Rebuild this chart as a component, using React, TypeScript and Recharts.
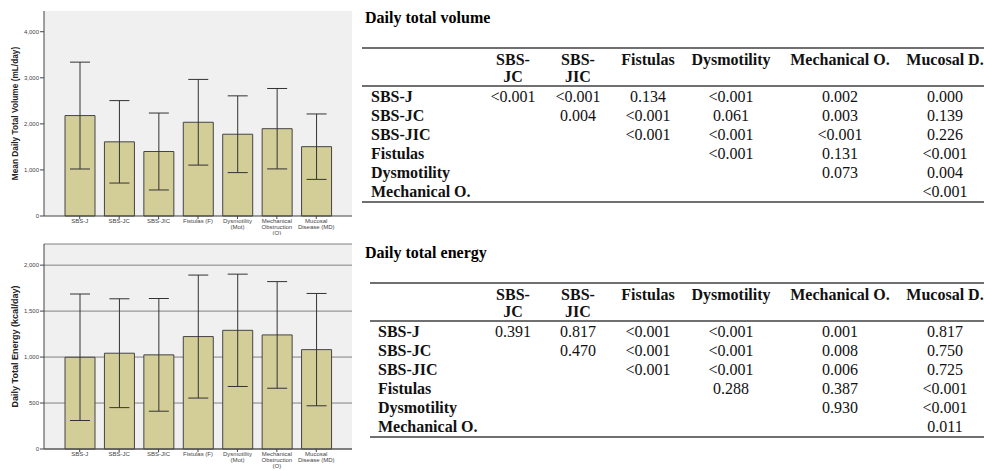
import React from 'react';
import { BarChart, Bar, XAxis, YAxis, CartesianGrid, ErrorBar, Label } from 'recharts';

// group labels shared by both bar charts (line breaks split the tick text)
const groups = [
  'SBS-J',
  'SBS-JC',
  'SBS-JIC',
  'Fistulas (F)',
  'Dysmotility\n(Mot)',
  'Mechanical\nObstruction\n(O)',
  'Mucosal\nDisease (MD)',
];

// mean daily total volume (mL/day) and SD
const volumeMean = [2180, 1610, 1400, 2035, 1775, 1895, 1505];
const volumeSd = [1160, 895, 835, 930, 833, 873, 710];
const volumeTicks = [0, 1000, 2000, 3000, 4000];

// daily total energy (kcal/day) and SD
const energyMean = [998, 1042, 1024, 1223, 1291, 1241, 1081];
const energySd = [688, 592, 613, 669, 611, 580, 611];
const energyTicks = [0, 500, 1000, 1500, 2000];

// pairwise p-values
const pCols = ['SBS-\nJC', 'SBS-\nJIC', 'Fistulas', 'Dysmotility', 'Mechanical O.', 'Mucosal D.'];
const pRows = ['SBS-J', 'SBS-JC', 'SBS-JIC', 'Fistulas', 'Dysmotility', 'Mechanical O.'];
const volumeP = [
  ['<0.001', '<0.001', '0.134', '<0.001', '0.002', '0.000'],
  ['', '0.004', '<0.001', '0.061', '0.003', '0.139'],
  ['', '', '<0.001', '<0.001', '<0.001', '0.226'],
  ['', '', '', '<0.001', '0.131', '<0.001'],
  ['', '', '', '', '0.073', '0.004'],
  ['', '', '', '', '', '<0.001'],
];
const energyP = [
  ['0.391', '0.817', '<0.001', '<0.001', '0.001', '0.817'],
  ['', '0.470', '<0.001', '<0.001', '0.008', '0.750'],
  ['', '', '<0.001', '<0.001', '0.006', '0.725'],
  ['', '', '', '0.288', '0.387', '<0.001'],
  ['', '', '', '', '0.930', '<0.001'],
  ['', '', '', '', '', '0.011'],
];

const SANS = '"Liberation Sans", Arial, sans-serif';
const SERIF = '"Liberation Serif", "Times New Roman", serif';
const BAR_FILL = '#d3ce97';

const CategoryTick = (props: any) => {
  const { x, y, payload } = props;
  const lines = String(payload.value).split('\n');
  return (
    <text x={x} y={y} textAnchor="middle" fontSize={6} fill="#444" fontFamily={SANS}>
      {lines.map((l, i) => (
        <tspan key={i} x={x} dy={i === 0 ? '0.71em' : 6}>{l}</tspan>
      ))}
    </text>
  );
};

const axisTitle = (text: string, dx: number, size: number) => (props: any) => {
  const vb = props.viewBox || { x: 0, y: 0, width: 44, height: 200 };
  const cx = vb.x + dx;
  const cy = vb.y + vb.height / 2;
  return (
    <text
      x={cx}
      y={cy}
      transform={`rotate(-90, ${cx}, ${cy})`}
      textAnchor="middle"
      dominantBaseline="central"
      fontSize={size}
      fontWeight="bold"
      fill="#222"
      fontFamily={SANS}
    >
      {text}
    </text>
  );
};

interface MeanChartProps {
  means: number[];
  sds: number[];
  ticks: number[];
  max: number;
  title: string;
  height: number;
  marginTop: number;
  axisHeight: number;
  frame: string;
  grid: boolean;
  titleSize: number;
}

function MeanChart({ means, sds, ticks, max, title, height, marginTop, axisHeight, frame, grid, titleSize }: MeanChartProps) {
  const data = groups.map((name, i) => ({ name, mean: means[i], sd: sds[i] }));
  return (
    <BarChart width={352} height={height} data={data} margin={{ top: marginTop, right: 0, bottom: 0, left: 0 }} barSize={30}>
      <CartesianGrid fill="#f0f0f0" vertical={false} horizontal={grid} stroke="#808080" strokeOpacity={1} />
      <XAxis
        dataKey="name"
        interval={0}
        height={axisHeight}
        padding={{ left: 16, right: 16 }}
        tickSize={3}
        tickMargin={0}
        tick={<CategoryTick />}
        tickLine={{ stroke: '#444' }}
        axisLine={{ stroke: '#444' }}
      />
      <XAxis xAxisId="frame" orientation="top" dataKey="name" height={0} tick={false} tickLine={false} axisLine={{ stroke: frame }} />
      <YAxis
        width={44}
        domain={[0, max]}
        ticks={ticks}
        tickSize={4}
        tickMargin={1}
        tickFormatter={(v: number) => v.toLocaleString('en-US')}
        tick={{ fontSize: 6, fill: '#444', fontFamily: SANS }}
        tickLine={{ stroke: '#444' }}
        axisLine={{ stroke: '#444' }}
      >
        <Label content={axisTitle(title, 15, titleSize)} />
      </YAxis>
      <YAxis yAxisId="frame" orientation="right" width={0} domain={[0, 1]} tick={false} tickLine={false} axisLine={{ stroke: frame }} />
      <Bar dataKey="mean" fill={BAR_FILL} stroke="#444" strokeWidth={1} isAnimationActive={false}>
        <ErrorBar dataKey="sd" width={10} stroke="#333" strokeWidth={1} direction="y" />
      </Bar>
    </BarChart>
  );
}

const RULE = '2px solid #707070';

function PTable({ title, values, top, left, labelWidth }: { title: string; values: string[][]; top: number; left: number; labelWidth: number }) {
  const widths = [labelWidth, 66, 64, 76, 90, 128, 82];
  const total = widths.reduce((a, b) => a + b, 0);
  return (
    <>
      <div style={{ position: 'absolute', left: 365, top: top - 38, fontFamily: SERIF, fontSize: 16, lineHeight: '18px', fontWeight: 'bold', whiteSpace: 'nowrap' }}>
        {title}
      </div>
      <table
        style={{
          position: 'absolute',
          left,
          top,
          width: total,
          tableLayout: 'fixed',
          borderCollapse: 'separate',
          borderSpacing: 0,
          fontFamily: SERIF,
          fontSize: 16,
          color: '#111',
        }}
      >
        <colgroup>
          {widths.map((w, i) => <col key={i} style={{ width: w }} />)}
        </colgroup>
        <thead>
          <tr>
            <th style={{ borderTop: RULE, borderBottom: RULE, padding: '2px 0 0 0' }} />
            {pCols.map((c, i) => (
              <th key={i} style={{ borderTop: RULE, borderBottom: RULE, padding: '2px 0 0 0', lineHeight: '17px', verticalAlign: 'top', textAlign: 'center', whiteSpace: 'nowrap' }}>
                {c.split('\n').map((part, j) => (
                  <React.Fragment key={j}>
                    {j > 0 && <br />}
                    {part}
                  </React.Fragment>
                ))}
              </th>
            ))}
          </tr>
        </thead>
        <tbody>
          {pRows.map((r, i) => {
            const last = i === pRows.length - 1;
            const cell = { padding: 0, lineHeight: '19px', borderBottom: last ? RULE : 'none', whiteSpace: 'nowrap' as const };
            return (
              <tr key={r}>
                <td style={{ ...cell, fontWeight: 'bold', paddingLeft: left < 365 ? 9 : 8 }}>{r}</td>
                {values[i].map((v, j) => (
                  <td key={j} style={{ ...cell, textAlign: 'center' }}>{v}</td>
                ))}
              </tr>
            );
          })}
        </tbody>
      </table>
    </>
  );
}

export default function App() {
  return (
    <div style={{ position: 'fixed', left: 0, top: 0, width: 984, height: 471, overflow: 'hidden', background: '#fff' }}>
      <div style={{ position: 'absolute', left: 0, top: 0 }}>
        <MeanChart
          means={volumeMean}
          sds={volumeSd}
          ticks={volumeTicks}
          max={4450}
          title="Mean Daily Total Volume (mL/day)"
          height={235}
          marginTop={11}
          axisHeight={19}
          frame="#999"
          grid={false}
          titleSize={8.3}
        />
      </div>
      <div style={{ position: 'absolute', left: 0, top: 235 }}>
        <MeanChart
          means={energyMean}
          sds={energySd}
          ticks={energyTicks}
          max={2230}
          title="Daily Total Energy (kcal/day)"
          height={236}
          marginTop={9}
          axisHeight={22}
          frame="#666"
          grid={true}
          titleSize={9}
        />
      </div>
      <PTable title="Daily total volume" values={volumeP} top={47} left={362} labelWidth={118} />
      <PTable title="Daily total energy" values={energyP} top={281.5} left={370} labelWidth={110} />
    </div>
  );
}
